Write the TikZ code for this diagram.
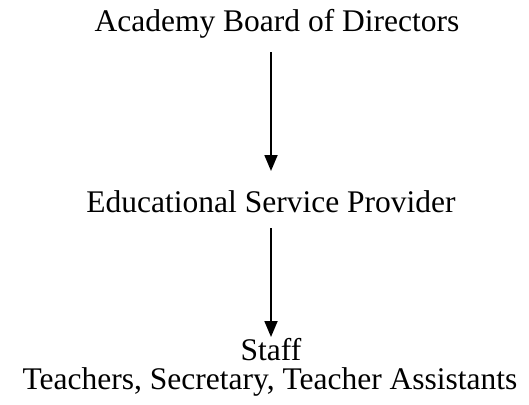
\documentclass[tikz,border=0pt]{standalone}
\usepackage{fontspec}
\setmainfont{Liberation Serif}
\usetikzlibrary{arrows.meta}
\tikzset{
  lbl/.style={inner sep=0pt, font=\fontsize{31.5}{33}\selectfont},
  arr/.style={line width=1.8pt, -{Triangle[length=16pt,width=13pt]}}
}
\begin{document}
\begin{tikzpicture}[x=1pt,y=-1pt]
\useasboundingbox (0,0) rectangle (529,404);
\node[lbl] (top) at (277,24) {Academy Board of Directors};
\node[lbl] (mid) at (271,202) {Educational Service Provider};
\node[lbl] (staff) at (271,350) {Staff};
\node[lbl] (sub) at (270,382) {Teachers, Secretary, Teacher Assistants};
\coordinate (a1s) at (271,52);
\coordinate (a1e) at (271,171);
\coordinate (a2s) at (271,228);
\coordinate (a2e) at (271,337);
\draw[arr] (a1s) -- (a1e);
\draw[arr] (a2s) -- (a2e);
\end{tikzpicture}
\end{document}
